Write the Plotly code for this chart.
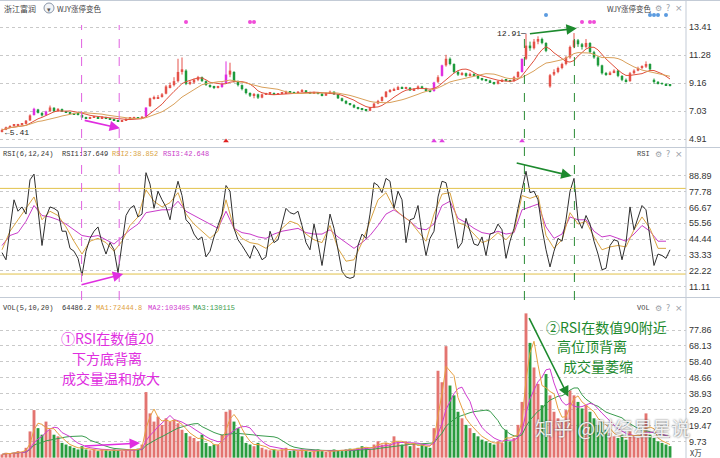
import plotly.graph_objects as go
import pandas as pd

# ---------------- data ----------------
close = [5.60,5.80,5.90,5.95,6.00,6.05,6.30,6.70,7.20,6.90,
6.70,7.00,7.30,7.00,7.20,7.00,6.95,6.85,6.80,6.75,
6.55,6.50,6.55,6.60,6.50,6.60,6.45,6.40,6.35,6.25,
6.30,6.45,6.50,6.55,6.50,6.60,7.30,8.00,8.05,8.10,
8.30,8.90,9.00,9.30,10.00,10.20,9.10,9.20,9.40,9.60,
9.30,9.00,8.90,8.80,8.85,9.10,9.80,10.10,9.30,9.00,
8.70,8.40,8.20,8.30,8.05,8.30,8.35,8.40,8.30,8.35,
8.40,8.50,8.45,8.40,8.50,8.60,8.45,8.40,8.45,8.35,
8.20,8.40,8.50,8.30,8.00,7.80,7.60,7.50,7.30,7.20,
7.15,7.05,7.30,7.60,7.80,8.10,8.50,8.60,8.70,8.85,
8.75,8.80,8.60,8.70,8.90,8.75,8.60,8.50,9.20,9.60,
10.50,11.00,10.60,10.00,9.80,9.90,9.70,9.85,9.75,9.50,
9.40,9.35,9.20,9.10,9.30,9.40,9.35,9.30,9.60,10.00,
11.00,12.00,11.80,12.30,12.50,12.20,11.60,9.75,10.00,10.30,
10.60,11.10,11.90,12.40,12.10,11.90,12.20,11.50,11.10,10.50,
9.90,9.80,9.95,10.10,9.70,9.40,9.30,9.90,10.10,10.30,
10.40,10.60,10.20,9.25,9.15,9.10,9.00,8.95]

open_ = [5.50,5.62,5.82,5.92,5.96,6.02,6.06,6.32,6.72,7.15,
6.88,6.72,7.02,7.28,7.02,7.18,7.00,6.94,6.86,6.80,
6.74,6.56,6.50,6.54,6.60,6.50,6.58,6.46,6.40,6.34,
6.24,6.30,6.45,6.50,6.55,6.50,6.62,7.40,8.00,8.02,
8.10,8.35,8.85,9.00,9.30,10.00,10.10,9.10,9.20,9.40,
9.60,9.30,9.00,8.90,8.80,8.85,9.15,9.80,10.00,9.30,
9.00,8.70,8.40,8.20,8.30,8.05,8.30,8.35,8.40,8.30,
8.35,8.40,8.50,8.45,8.40,8.50,8.60,8.45,8.40,8.45,
8.35,8.20,8.40,8.50,8.30,8.00,7.80,7.60,7.50,7.30,
7.20,7.15,7.05,7.30,7.60,7.80,8.10,8.50,8.60,8.70,
8.85,8.75,8.80,8.60,8.70,8.90,8.75,8.60,8.55,9.25,
9.70,10.50,11.00,10.60,10.00,9.80,9.90,9.70,9.85,9.75,
9.50,9.40,9.35,9.20,9.10,9.30,9.40,9.35,9.30,9.60,
10.00,11.00,12.00,11.80,12.30,12.50,12.20,8.90,9.80,10.00,
10.30,10.60,11.10,11.90,12.40,12.10,11.90,12.20,11.50,11.10,
10.50,9.90,9.80,9.95,10.10,9.70,9.40,9.30,9.90,10.10,
10.30,10.40,10.60,9.40,9.25,9.15,9.10,9.00]

high = [5.70,5.85,5.95,6.02,6.06,6.12,6.35,6.78,7.28,7.20,
6.95,7.05,7.45,7.32,7.25,7.22,7.05,6.98,6.90,6.84,
6.78,6.60,6.60,6.66,6.63,6.64,6.60,6.50,6.44,6.38,
6.34,6.48,6.55,6.60,6.58,6.65,7.30,8.05,8.20,8.25,
8.40,9.00,9.20,9.60,11.00,11.10,10.20,9.35,9.50,9.70,
9.65,9.35,9.05,8.95,8.95,9.20,10.80,10.70,10.05,9.35,
9.05,8.75,8.45,8.40,8.35,8.35,8.42,8.45,8.44,8.40,
8.45,8.58,8.55,8.50,8.55,8.70,8.62,8.50,8.50,8.48,
8.38,8.45,8.58,8.52,8.32,8.05,7.85,7.64,7.55,7.35,
7.25,7.18,7.35,7.65,7.88,8.15,8.55,8.70,8.80,8.95,
8.90,8.88,8.85,8.78,8.98,8.95,8.80,8.65,9.25,9.75,
10.55,11.30,11.10,10.65,10.10,10.00,9.95,9.95,9.90,9.80,
9.55,9.45,9.40,9.25,9.35,9.48,9.45,9.40,9.70,10.05,
11.00,12.91,12.30,12.50,12.70,12.60,12.25,9.85,10.20,10.40,
10.70,11.20,12.00,12.95,12.50,12.20,12.50,12.25,11.60,11.20,
10.55,10.00,10.05,10.20,10.15,9.75,9.50,10.00,10.20,10.40,
10.50,10.80,10.65,9.50,9.30,9.20,9.12,9.05]

low = [5.41,5.58,5.78,5.86,5.90,5.98,6.02,6.28,6.70,6.85,
6.62,6.68,6.98,6.95,6.98,6.96,6.90,6.80,6.76,6.70,
6.50,6.46,6.47,6.52,6.46,6.48,6.42,6.36,6.30,6.20,
6.20,6.28,6.42,6.46,6.45,6.48,6.60,7.35,7.90,7.95,
8.05,8.30,8.75,8.90,9.20,9.80,9.00,9.00,9.10,9.30,
9.25,8.95,8.80,8.70,8.75,8.80,9.10,9.60,9.20,8.90,
8.60,8.30,8.10,8.00,7.95,8.00,8.25,8.30,8.25,8.26,
8.32,8.36,8.40,8.35,8.36,8.46,8.40,8.35,8.36,8.30,
8.15,8.18,8.36,8.25,7.95,7.75,7.55,7.45,7.25,7.15,
7.08,7.00,7.02,7.25,7.55,7.75,8.05,8.42,8.55,8.65,
8.70,8.70,8.55,8.55,8.66,8.70,8.55,8.45,8.50,9.15,
9.65,10.40,10.50,9.90,9.70,9.72,9.62,9.65,9.68,9.45,
9.32,9.28,9.15,9.02,9.05,9.25,9.28,9.22,9.25,9.55,
9.95,10.90,11.60,11.70,12.10,12.10,11.50,8.80,9.70,9.90,
10.20,10.50,11.00,11.80,11.90,11.70,11.80,11.40,11.00,10.40,
9.80,9.70,9.75,9.90,9.60,9.30,9.20,9.25,9.85,10.05,
10.20,10.30,10.10,9.10,9.05,9.02,8.95,8.90]

# volume in 万 (10k)
volume = [2,3,2.5,3,4,3.5,6,16,29,18,
14,22,17,14,13,9,8,7,6,5,
7,5,4.5,5,4,5,4.5,4,5,4.5,
4,5,4.5,5,5.5,8,40,27,22,25,
20,24,22,23,21,17,15,13,12,10,
14,9,7,8,8,14,28,29,22,18,
13,9,8,7,9,6,5,4.5,5,4,
5,6,4,4.5,4,5,4,3.5,4,5,
4,3.5,4,5,4.5,4,5,5.5,5,6,
7,6,5,8,10,8,9,8,13,9,
8,10,7,9,6,8,7,6,18,53,
46,68,44,38,28,24,20,18,15,13,
11,10,9,8,10,9,17,10,12,20,
34,88,70,55,45,32,51,38,28,24,
22,29,41,38,34,30,32,28,24,20,
22,17,15,13,12,14,11,16,13,12,
15,27,14,12,10,9,8,7]

rsi1 = [35,30,52,72,64,67,62,86,90,65,
40,60,67,66,64,50,50,38,36,31,
19,36,45,50,53,42,34,42,37,21,
42,61,66,68,60,62,91,83,66,78,
72,67,58,74,85,75,58,55,48,44,
46,32,36,46,54,62,82,78,52,44,
40,35,31,40,36,30,32,50,42,44,
55,66,63,62,64,54,42,37,55,42,
26,45,62,52,38,22,18,17,18,40,
48,45,62,84,82,77,87,85,66,78,
72,42,58,59,68,48,33,45,50,74,
85,84,71,54,38,42,59,50,41,40,
46,33,48,49,55,51,31,43,52,66,
80,92,77,78,72,52,37,25,36,45,
43,58,78,87,58,52,61,55,43,34,
23,24,40,44,43,30,42,67,51,59,
68,65,47,26,34,33,31,37]

# RSI2 / RSI3 read every second bar
rsi2 = [37,50,58,66,74,58,64,61,53,43,
34,43,45,42,36,43,54,60,79,71,
67,70,77,62,55,50,45,50,72,52,
45,42,41,38,43,52,57,55,48,44,
42,54,38,29,30,42,57,72,77,66,
61,57,50,43,62,76,77,56,54,48,
42,44,49,44,50,75,73,75,47,38,
44,63,55,57,46,37,39,40,39,51,
60,52,38,38]
rsi3 = [40,47,49,57,68,61,60,58,55,51,
47,46,47,44,41,46,51,55,63,64,
65,65,71,64,61,58,55,52,64,52,
49,48,46,45,48,50,51,52,49,48,
48,51,46,42,38,42,47,54,62,65,
61,57,52,51,55,68,71,59,56,52,
49,48,50,48,49,65,67,69,53,45,
48,60,58,58,50,46,47,45,43,48,
54,50,43,43]

limit_up_idx = [8, 11, 36, 55, 56, 108, 110, 130]
pink_signal_idx = [46, 62, 63, 145, 147, 148]
blue_signal_idx = [136, 162, 163, 164, 166]
red_tri_idx = [56]
mag_tri_idx = [108, 110, 130]
div_low_idx = [19.9, 29.3]
div_high_idx = [130.6, 143.1]

price_ticks = [13.41, 11.28, 9.16, 7.03, 4.91]
rsi_ticks = [88.89, 77.78, 66.67, 55.56, 44.44, 33.33, 22.22, 11.11]
vol_ticks = [77.86, 68.13, 58.40, 48.66, 38.93, 29.20, 19.47, 9.73]
rsi_bands = [80, 20]

# ---------------- geometry / style ----------------
W, H = 720, 458
R = 34
PW = W - R

def px(x):
    return x / PW

def py(y):
    return 1 - y / H

RED = "#e5534b"
GREEN = "#1f9a3c"
MAG = "#e02ee0"
VRED = "#e37470"
VGREEN = "#2a9c3e"
GRID = "#c9c9c9"
BORDER = "#c3cbd6"
CJK = "Noto Sans CJK SC"
MONO = "Liberation Mono"

N = len(close)
idx = list(range(N))
colors = []
for i, (o, c) in enumerate(zip(open_, close)):
    if i in limit_up_idx:
        colors.append(MAG)
    elif c >= o:
        colors.append(RED)
    else:
        colors.append(GREEN)
vcolors = [VGREEN if c == GREEN else VRED for c in colors]

fig = go.Figure()

# candle wicks
for col in (RED, GREEN, MAG):
    wx, wy = [], []
    for i in idx:
        if colors[i] == col:
            wx += [i, i, None]
            wy += [low[i], high[i], None]
    fig.add_trace(go.Scatter(x=wx, y=wy, mode="lines", line=dict(color=col, width=1),
                             xaxis="x", yaxis="y", hoverinfo="skip"))
# candle bodies
fig.add_trace(go.Bar(x=idx, base=[min(o, c) for o, c in zip(open_, close)],
                     y=[max(abs(c - o), 0.06) for o, c in zip(open_, close)],
                     marker=dict(color=colors, line=dict(width=0)), width=0.62,
                     xaxis="x", yaxis="y"))
# price MAs
cs = pd.Series(close)
fig.add_trace(go.Scatter(x=idx, y=cs.rolling(7, min_periods=1).mean(), mode="lines",
                         line=dict(color="#e0503c", width=1), xaxis="x", yaxis="y"))
fig.add_trace(go.Scatter(x=idx, y=cs.rolling(14, min_periods=1).mean(), mode="lines",
                         line=dict(color="#d9a05a", width=1), xaxis="x", yaxis="y"))

# signal markers
top_level = 13.79
top_level2 = 14.32
bot_level = 4.76
fig.add_trace(go.Scatter(x=pink_signal_idx, y=[top_level] * len(pink_signal_idx), mode="markers",
                         marker=dict(color="#f04cd8", size=4), xaxis="x", yaxis="y"))
fig.add_trace(go.Scatter(x=blue_signal_idx, y=[top_level2] * len(blue_signal_idx), mode="markers",
                         marker=dict(color="#5b9be0", size=4), xaxis="x", yaxis="y"))
fig.add_trace(go.Scatter(x=red_tri_idx, y=[bot_level] * len(red_tri_idx), mode="markers",
                         marker=dict(color="#e02020", size=5, symbol="triangle-up"), xaxis="x", yaxis="y"))
fig.add_trace(go.Scatter(x=mag_tri_idx, y=[bot_level] * len(mag_tri_idx), mode="markers",
                         marker=dict(color="#e040e0", size=5, symbol="triangle-up"), xaxis="x", yaxis="y"))

# RSI
rsi_x2 = [2 * j for j in range(len(rsi2))]
fig.add_trace(go.Scatter(x=rsi_x2, y=rsi3, mode="lines", line=dict(color="#c93cc9", width=1),
                         xaxis="x2", yaxis="y2"))
fig.add_trace(go.Scatter(x=rsi_x2, y=rsi2, mode="lines", line=dict(color="#d9a443", width=1),
                         xaxis="x2", yaxis="y2"))
fig.add_trace(go.Scatter(x=idx, y=rsi1, mode="lines", line=dict(color="#2e2e2e", width=1),
                         xaxis="x2", yaxis="y2"))

# Volume
fig.add_trace(go.Bar(x=idx, y=volume, marker=dict(color=vcolors, line=dict(width=0)), width=0.72,
                     xaxis="x3", yaxis="y3"))
vs = pd.Series(volume)
for win, col in ((14, "#3a9c4e"), (7, "#d03cd0"), (3, "#e8a040")):
    fig.add_trace(go.Scatter(x=idx, y=vs.rolling(win, min_periods=1).mean(), mode="lines",
                             line=dict(color=col, width=1), xaxis="x3", yaxis="y3"))

TF = dict(family="Liberation Sans", size=9, color="#333333")

def yax(dom, rng, ticks, anchor):
    return dict(domain=dom, range=rng, side="right", anchor=anchor,
                tickvals=ticks, ticktext=[f"{t:.2f}" for t in ticks],
                showgrid=True, gridcolor=GRID, griddash="dot", gridwidth=1,
                zeroline=False, showline=False, ticks="", tickfont=TF,
                ticklabelstandoff=2, fixedrange=True)

fig.update_layout(
    width=W, height=H, margin=dict(l=0, r=R, t=0, b=0),
    paper_bgcolor="white", plot_bgcolor="white", showlegend=False,
    xaxis=dict(domain=[0, 1], range=[-0.5, 171], visible=False, anchor="y"),
    xaxis2=dict(domain=[0, 1], matches="x", visible=False, anchor="y2"),
    xaxis3=dict(domain=[0, 1], matches="x", visible=False, anchor="y3"),
    yaxis=yax([py(147), 1], [4.303, 15.459], price_ticks, "x"),
    yaxis2=yax([py(297), py(148)], [3.92, 108.29], rsi_ticks, "x2"),
    yaxis3=yax([0, py(298)], [-0.21, 97.38], vol_ticks, "x3"),
)

shapes = []
# RSI bands
for b in rsi_bands:
    shapes.append(dict(type="line", xref="paper", yref="y2", x0=0, x1=1, y0=b, y1=b,
                       line=dict(color="#e2c24a", width=1)))
# borders / separators
shapes.append(dict(type="line", xref="paper", yref="paper", x0=1, x1=1, y0=0, y1=1,
                   line=dict(color=BORDER, width=1)))
for yy in (0.5, 147.5, 297.5):
    shapes.append(dict(type="line", xref="paper", yref="paper", x0=0, x1=W / PW,
                       y0=py(yy), y1=py(yy), line=dict(color=BORDER, width=1)))
# divergence marker lines
for xi in div_low_idx:
    shapes.append(dict(type="line", xref="x", yref="paper", x0=xi, x1=xi, y0=py(300), y1=py(25),
                       line=dict(color="#e060e0", width=1, dash="dash")))
for xi, top in zip(div_high_idx, (33, 30)):
    shapes.append(dict(type="line", xref="x", yref="paper", x0=xi, x1=xi, y0=py(300), y1=py(top),
                       line=dict(color="#2a8a34", width=1, dash="dash")))
# dropdown icon
shapes.append(dict(type="circle", xref="paper", yref="paper", x0=px(44), x1=px(54),
                   y0=py(13), y1=py(3), line=dict(color="#8a96a8", width=1), fillcolor="#f2f4f7"))
fig.update_layout(shapes=shapes)

ann = []

def txt(x, y, s, color="#333333", size=8, family=CJK, xanchor="left"):
    ann.append(dict(x=px(x), y=py(y), xref="paper", yref="paper", text=s, showarrow=False,
                    xanchor=xanchor, yanchor="middle", borderpad=0,
                    font=dict(family=family, size=size, color=color)))

# headers
txt(3, 8, "浙江富润", "#444444", 8)
txt(49, 8.5, "▾", "#555555", 7, xanchor="center")
txt(56, 8, "WJY涨停变色", "#444444", 7.5)
txt(606, 8, "WJY涨停变色", "#444444", 7.5)
for y0 in (8, 154, 308):
    txt(658, y0, "⚙", "#9aa0a8", 8, "DejaVu Sans", "center")
    txt(668, y0, "?", "#9aa0a8", 8, "DejaVu Sans", "center")
    txt(679, y0, "×", "#9aa0a8", 9, "DejaVu Sans", "center")
txt(636, 154, "RSI", "#444444", 7, MONO)
txt(636, 308, "VOL", "#444444", 7, MONO)

txt(2, 154, "RSI(6,12,24)", "#333333", 7, MONO)
txt(61, 154, "RSI1:37.649", "#333333", 7, MONO)
txt(111, 154, "RSI2:38.852", "#d9a443", 7, MONO)
txt(162, 154, "RSI3:42.648", "#c93cc9", 7, MONO)

txt(2, 308, "VOL(5,10,20)", "#333333", 7, MONO)
txt(61, 308, "64486.2", "#333333", 7, MONO)
txt(95, 308, "MA1:72444.8", "#e0a040", 7, MONO)
txt(147, 308, "MA2:103405", "#d03cd0", 7, MONO)
txt(192, 308, "MA3:130115", "#3a9c4e", 7, MONO)
txt(689, 452, "X万", "#333333", 7.5)

# notes
txt(107, 338, "①RSI在数值20", "#e02ee0", 14, CJK, "center")
txt(107, 358, "下方底背离", "#e02ee0", 14, CJK, "center")
txt(111, 378, "成交量温和放大", "#e02ee0", 14, CJK, "center")
txt(606, 327, "②RSI在数值90附近", "#1d8a2e", 14, CJK, "center")
txt(592, 346, "高位顶背离", "#1d8a2e", 14, CJK, "center")
txt(598, 366, "成交量萎缩", "#1d8a2e", 14, CJK, "center")

# watermark
ann.append(dict(x=px(612), y=py(427), xref="paper", yref="paper", text="知乎 @财经星星说",
                showarrow=False, xanchor="center", yanchor="middle",
                font=dict(family=CJK, size=19, color="rgba(255,255,255,0.9)",
                          shadow="0px 0px 2px #444")))

# price labels
ann.append(dict(x=131, y=12.91, xref="x", yref="y", text="12.91─", showarrow=False,
                xanchor="right", yanchor="middle", xshift=2,
                font=dict(family=MONO, size=8, color="#222222")))
ann.append(dict(x=0, y=5.41, xref="x", yref="y", text="←5.41", showarrow=False,
                xanchor="left", yanchor="middle", xshift=1,
                font=dict(family=MONO, size=8, color="#222222")))

# arrows
def arrow(xr, yr, x0, y0, x1, y1, color):
    ann.append(dict(x=x1, y=y1, ax=x0, ay=y0, xref=xr, yref=yr, axref=xr, ayref=yr,
                    text="", showarrow=True, arrowhead=2, arrowsize=1.3, arrowwidth=1.6,
                    arrowcolor=color))

arrow("x", "y", 20.3, 6.35, 29.5, 5.72, "#e02ee0")
arrow("x2", "y2", 19.5, 12.3, 30.3, 20.0, "#e02ee0")
arrow("x3", "y3", 20.3, 7.1, 34.5, 8.9, "#e02ee0")
arrow("x", "y", 131.6, 12.88, 143.7, 13.31, "#1d8a2e")
arrow("x2", "y2", 128.3, 98.0, 142.4, 88.7, "#1d8a2e")
arrow("x3", "y3", 131.6, 85.97, 141.6, 37.2, "#1d8a2e")

fig.update_layout(annotations=ann)
fig.write_html("out.html", config={"displayModeBar": False},
               post_script="document.body.style.margin='0';document.body.style.overflow='hidden';")
